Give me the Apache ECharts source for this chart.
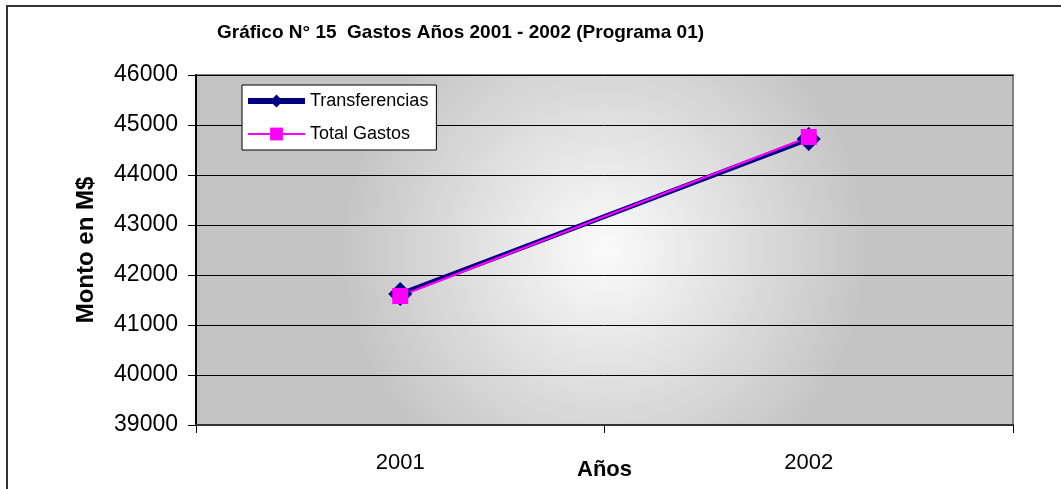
<!DOCTYPE html>
<html>
<head>
<meta charset="utf-8">
<script src="https://cdn.jsdelivr.net/npm/echarts@6/dist/echarts.min.js"></script>
<style>
  html, body { margin: 0; padding: 0; background: #fff; }
  #chart { width: 1061px; height: 489px; }
</style>
</head>
<body>
<div id="chart"></div>
<script>
// datos
const years = ['2001', '2002'];
const transferencias = [41620, 44720];
const totalGastos = [41580, 44760];
const yTicks = { min: 39000, max: 46000, step: 1000 };

const font = '"Liberation Sans", Arial, sans-serif';

const dom = document.getElementById('chart');
const myChart = echarts.init(dom);

const option = {
  animation: false,
  backgroundColor: '#fff',
  title: {
    text: 'Gráfico N° 15  Gastos Años 2001 - 2002 (Programa 01)',
    left: 217,
    top: 23,
    padding: 0,
    textStyle: { fontFamily: font, fontSize: 19, fontWeight: 'bold', color: '#000' }
  },
  graphic: [
    {
      type: 'rect',
      shape: { x: 7, y: 6, width: 1200, height: 700 },
      style: { fill: 'none', stroke: '#333', lineWidth: 2 },
      silent: true
    }
  ],
  legend: {
    orient: 'vertical',
    left: 242,
    top: 85,
    padding: [7, 8, 7, 3],
    itemGap: 15,
    itemWidth: 57,
    itemHeight: 16,
    backgroundColor: '#fff',
    borderColor: '#000',
    borderWidth: 1,
    borderRadius: 0,
    textStyle: { fontFamily: font, fontSize: 18, color: '#000' },
    data: [
      { name: 'Transferencias', lineStyle: { width: 6 } },
      { name: 'Total Gastos', lineStyle: { width: 2 } }
    ]
  },
  grid: {
    left: 196,
    top: 75,
    right: 48,
    bottom: 64,
    outerBoundsMode: 'none',
    containLabel: false,
    show: true,
    borderColor: '#808080',
    borderWidth: 2,
    backgroundColor: {
      type: 'radial', x: 0.5, y: 0.5, r: 0.75,
      colorStops: [
        { offset: 0, color: '#fbfbfb' },
        { offset: 1, color: '#c4c4c4' }
      ]
    }
  },
  xAxis: {
    type: 'category',
    data: years,
    boundaryGap: true,
    name: 'Años',
    nameLocation: 'middle',
    nameGap: 34,
    nameMoveOverlap: false,
    nameTextStyle: { fontFamily: font, fontSize: 22, fontWeight: 'bold', color: '#000' },
    axisLine: { lineStyle: { color: '#333', width: 2 } },
    axisTick: { show: true, length: 8, lineStyle: { color: '#000' } },
    axisLabel: { fontFamily: font, fontSize: 22, color: '#000', margin: 27 },
    splitLine: { show: false }
  },
  yAxis: {
    type: 'value',
    min: yTicks.min,
    max: yTicks.max,
    interval: yTicks.step,
    name: 'Monto en M$',
    nameLocation: 'middle',
    nameRotate: 90,
    nameGap: 98,
    nameMoveOverlap: false,
    nameTextStyle: { fontFamily: font, fontSize: 24, fontWeight: 'bold', color: '#000' },
    axisLine: { show: true, lineStyle: { color: '#000', width: 2 } },
    axisTick: { show: true, length: 8, lineStyle: { color: '#000' } },
    axisLabel: {
      fontFamily: font, fontSize: 23, color: '#000', margin: 18,
      formatter: function (v) { return String(v); }
    },
    splitLine: { show: true, lineStyle: { color: '#000', width: 1 } }
  },
  series: [
    {
      name: 'Transferencias',
      type: 'line',
      data: transferencias,
      color: '#000080',
      symbol: 'diamond',
      symbolSize: 24,
      lineStyle: { width: 5, color: '#000080' },
      itemStyle: { color: '#000080' }
    },
    {
      name: 'Total Gastos',
      type: 'line',
      data: totalGastos,
      color: '#ff00ff',
      symbol: 'rect',
      symbolSize: 16,
      lineStyle: { width: 2, color: '#ff00ff' },
      itemStyle: { color: '#ff00ff' }
    }
  ]
};

myChart.setOption(option, true);
</script>
</body>
</html>
